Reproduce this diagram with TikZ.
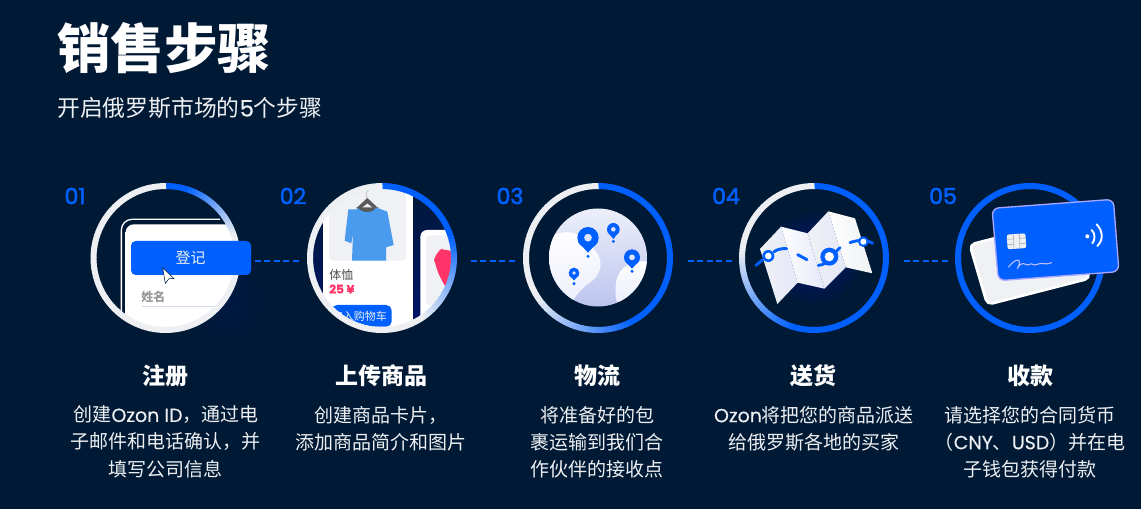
\documentclass[tikz,border=0pt]{standalone}
\usepackage{fontspec}
\setmainfont{Noto Sans CJK SC}
\newfontfamily\lat[FakeBold=0.35]{Poppins}
\newfontfamily\latnum[FakeBold=2.2]{Poppins}
\definecolor{bg}{HTML}{001A35}
\definecolor{oblue}{HTML}{0060FF}
\definecolor{ringw}{HTML}{EDEFF2}
\definecolor{lav}{HTML}{D3D8F4}
\definecolor{lavd}{HTML}{BCC4EE}
\definecolor{pale}{HTML}{EFF1F4}
\definecolor{shirt}{HTML}{4A9BEE}
\definecolor{rosy}{HTML}{FF3468}
\newcommand\fs[1]{\pgfmathsetmacro\fsz{#1*0.75}\fontsize{\fsz}{\fsz}\selectfont}
\newcommand\gring[4]{%
  \foreach \t in {0,3,...,357}{%
    \pgfmathsetmacro\pp{min(100,max(0,(#4-\t)/(#4-#3)*100))}%
    \pgfmathsetmacro\ang{\t-90}%
    \draw[line width=4.5pt,color=oblue!\pp!ringw] ($(#1,#2)+(\ang:72)$) arc[start angle=\ang,delta angle=3.4,radius=72];
  }}
\newcommand\pin[5]{% x y r tipy doty
  \fill[oblue] (#1,#2) circle[radius=#3];
  \fill[oblue] ({#1-#3*0.92},{#2+#3*0.4}) -- (#1,#4) -- ({#1+#3*0.92},{#2+#3*0.4}) -- cycle;
  \fill[lav!70!white] (#1,#2) circle[radius={#3*0.36}];
  \fill[oblue] (#1,#5) circle[radius=5];
}
\usetikzlibrary{calc}
\tikzset{
  bignum/.style={text=oblue,font=\latnum\fs{22},inner sep=0pt},
  head/.style={text=white,font=\bfseries\fs{23},inner sep=0pt},
  body/.style={text=ringw,font=\fs{19},inner sep=0pt,align=center},
  conn/.style={oblue,line width=1.5pt,dash pattern=on 4.5pt off 2.6pt},
  hub/.style={circle,minimum size=112.5pt,inner sep=0pt},
  route/.style={oblue,line width=2.2pt,line cap=round},
}
\begin{document}
\begin{tikzpicture}[x=.75pt,y=-.75pt]
\useasboundingbox (0,0) rectangle (1141,509);
\fill[bg] (0,0) rectangle (1141,509);

\node[anchor=west,text=white,font=\bfseries\fs{53.5},inner sep=0pt] (title) at (57,48) {销售步骤};
\node[anchor=west,text=ringw,font=\fs{22.8},inner sep=0pt] (sub) at (57,108) {开启俄罗斯市场的{\lat 5}个步骤};

\node[hub] (r1) at (165.5,258) {};
\node[hub] (r2) at (382,258) {};
\node[hub] (r3) at (598,258) {};
\node[hub] (r4) at (814,258) {};
\node[hub] (r5) at (1030,258) {};

\node[bignum] (n1) at (75,196) {01};
\node[bignum] (n2) at (293,196) {02};
\node[bignum] (n3) at (510,196) {03};
\node[bignum] (n4) at (726,196) {04};
\node[bignum] (n5) at (943,196) {05};

% ---------- 1
\shade[inner color=blue!7!bg,outer color=bg] (225,300) circle[radius=50];
\begin{scope}
\clip (r1) circle[radius=72];
\fill[bg] (r1) circle[radius=72];
\begin{scope}[shift={(60,170)},x=.25pt,y=-.25pt]
\draw[white,line width=1pt,rounded corners=8pt] (184,500) -- (184,148) -- (480,148);
\shade[top color=white,middle color=lav!65!white,bottom color=white,rounded corners=6pt] (197,163) rectangle (600,520);
\fill[lav] (245,409) rectangle (500,412);
\node[text=black!40,font=\bfseries\fs{12},inner sep=0pt] (nm) at (280,380) {姓名};
\end{scope}
\end{scope}
\gring{165.5}{258}{15}{70}
\begin{scope}[shift={(60,170)},x=.25pt,y=-.25pt]
\fill[oblue,rounded corners=3.5pt] (213,213) rectangle (573,315);
\node[text=ringw,font=\fs{15},inner sep=0pt] (btn1) at (392,262) {登记};
\fill[white,draw=bg,line width=.4pt] (308,293) -- (342,326) -- (327,326) -- (316,340) -- cycle;
\end{scope}

% ---------- 2
\begin{scope}
\clip (r2) circle[radius=72];
\shade[top color=bg,bottom color=blue!28!bg] (305,180) rectangle (460,340);
\begin{scope}[shift={(280,170)},x=.25pt,y=-.25pt]
\fill[white] (130,0) rectangle (398,500);
\fill[pale,rounded corners=3pt] (147,-20) rectangle (378,272);
% hanger
\fill[black!65] (232,112) -- (262,84) -- (292,112) -- (285,118) -- (262,100) -- (240,118) -- cycle;
\draw[black!25,line width=.6pt] (262,84) .. controls (255,75) and (258,62) .. (266,62);
% shirt
\fill[black!65] (228,112) .. controls (245,140) and (280,140) .. (296,112) -- cycle;
\fill[shirt] (232,118) -- (205,118) -- (194,212) -- (214,220) -- (219,190) -- (216,272) -- (318,272) -- (318,232) -- (341,225) -- (322,125) -- (288,112) .. controls (282,130) and (245,132) .. (232,112) -- cycle;
\node[anchor=west,text=black!70,font=\fs{12},inner sep=0pt] (p1) at (147,316) {体恤};
\node[anchor=west,text=rosy,font=\bfseries\fs{12},inner sep=0pt] (p2) at (147,357) {{\lat 25 ¥}};
\fill[oblue,rounded corners=4pt] (155,405) rectangle (335,470);
\node[text=ringw,font=\fs{11},inner sep=0pt] (p3) at (238,440) {加入购物车};
\fill[white,rounded corners=5pt] (421,180) rectangle (620,520);
\fill[pale,rounded corners=3pt] (438,196) rectangle (600,405);
\fill[rosy,rounded corners=8pt] (460,245) -- (505,232) -- (540,260) -- (540,400) -- (500,360) -- (465,290) -- cycle;
\end{scope}
\end{scope}
\gring{382}{258}{70}{145}

% ---------- 3
\gring{598}{258}{150}{235}
\begin{scope}
\clip (598,257.5) circle[radius=49];
\shade[top color=lav!40!white,bottom color=lavd] (540,208) rectangle (660,307);
\begin{scope}[shift={(500,170)},x=.25pt,y=-.25pt]
\shade[top color=white,bottom color=lav!45!white] (130,210) .. controls (180,180) and (235,170) .. (280,235) .. controls (320,280) and (300,320) .. (260,345) .. controls (240,360) and (225,380) .. (215,400) -- (130,420) -- cycle;
\shade[top color=white,bottom color=lav!45!white] (350,395) .. controls (340,340) and (350,290) .. (400,280) .. controls (420,272) and (430,270) .. (450,280) -- (450,400) -- cycle;
\end{scope}
\end{scope}
\begin{scope}[shift={(500,170)},x=.25pt,y=-.25pt]
\pin{264}{203}{32}{248}{259}
\pin{340}{178}{19}{207}{214}
\pin{396}{262}{24}{296}{304}
\pin{222}{309}{16}{331}{341}
\end{scope}

% ---------- 4
\gring{814}{258}{195}{275}
\shade[inner color=blue!30!bg,outer color=bg] (r4) circle[radius=50];
\begin{scope}[shift={(700,170)},x=.25pt,y=-.25pt]
\shade[left color=pale,right color=lav!60!white] (180,237) -- (243,170) -- (293,338) -- (232,402) -- cycle;
\shade[left color=white,right color=lav!60!white] (243,170) -- (323,190) -- (373,356) -- (293,338) -- cycle;
\shade[left color=pale,right color=lav!60!white] (323,190) -- (385,124) -- (437,292) -- (373,356) -- cycle;
\shade[left color=white,right color=pale] (385,124) -- (465,145) -- (517,310) -- (437,292) -- cycle;
\draw[route] (168,286) -- (187,270);
\draw[route] (222,245) .. controls (232,238) and (245,235) .. (260,236);
\draw[route] (293,254) -- (321,269);
\draw[route] (355,286) .. controls (385,285) and (400,250) .. (420,233);
\draw[route] (450,218) .. controls (470,210) and (500,208) .. (518,220);
\fill[oblue] (205,258) circle[radius=18];
\fill[white] (205,258) circle[radius=10];
\fill[oblue] (388,260) circle[radius=27];
\fill[white] (388,260) circle[radius=14];
\fill[oblue] (490,215) circle[radius=16];
\fill[white] (490,215) circle[radius=9];
\end{scope}

% ---------- 5
\gring{1030}{258}{400}{500}
\begin{scope}[shift={(900,170)},x=.25pt,y=-.25pt]
\fill[pale,draw=white,line width=2pt,rounded corners=4pt] (209,224) -- (516,145) -- (570,325) -- (262,404) -- cycle;
\fill[oblue,draw=blue!35!white,line width=1pt,rounded corners=5pt] (276,115) -- (640,88) -- (657,305) -- (295,332) -- cycle;
\fill[ringw,rounded corners=1.5pt] (320,194) -- (376,190) -- (379,234) -- (323,238) -- cycle;
\draw[black!30,line width=.5pt] (320,208) -- (340,207) (322,224) -- (340,223) (358,205) -- (377,204) (360,221) -- (378,220) (340,193) -- (342,237) (358,192) -- (360,236);
\fill[white] (562,199) circle[radius=6];
\draw[white,line width=1.4pt,line cap=round] (575,180) .. controls (586,190) and (586,210) .. (577,220);
\draw[white,line width=1.4pt,line cap=round] (590,163) .. controls (610,185) and (610,210) .. (592,228);
\draw[blue!25!white,line width=.8pt] (325,292) .. controls (345,265) and (370,260) .. (352,296) .. controls (365,270) and (375,285) .. (385,285) .. controls (395,275) and (400,290) .. (412,283) .. controls (425,275) and (435,288) .. (456,277);
\end{scope}

% ---------- connectors
\coordinate (a1) at (255,261); \coordinate (b1) at (301,261);
\coordinate (a2) at (471,261); \coordinate (b2) at (516,261);
\coordinate (a3) at (688,261); \coordinate (b3) at (732,261);
\coordinate (a4) at (904,261); \coordinate (b4) at (950,261);
\draw[conn] (a1) -- (b1);
\draw[conn] (a2) -- (b2);
\draw[conn] (a3) -- (b3);
\draw[conn] (a4) -- (b4);

% ---------- text
\node[head] (h1) at (165,376) {注册};
\node[head] (h2) at (381,376) {上传商品};
\node[head] (h3) at (597,376) {物流};
\node[head] (h4) at (813,376) {送货};
\node[head] (h5) at (1030,376) {收款};
\node[body] (t1a) at (166,415) {创建{\lat Ozon ID}，通过电};
\node[body] (t1b) at (165,442) {子邮件和电话确认，并};
\node[body] (t1c) at (165,469) {填写公司信息};
\node[body] (t2a) at (381,415) {创建商品卡片，};
\node[body] (t2b) at (381,442) {添加商品简介和图片};
\node[body] (t3a) at (597,415) {将准备好的包};
\node[body] (t3b) at (597,442) {裹运输到我们合};
\node[body] (t3c) at (597,469) {作伙伴的接收点};
\node[body] (t4a) at (814,415) {{\lat Ozon}将把您的商品派送};
\node[body] (t4b) at (814,442) {给俄罗斯各地的买家};
\node[body] (t5a) at (1030,415) {请选择您的合同货币};
\node[body] (t5b) at (1030,442) {（{\lat CNY}、{\lat USD}）并在电};
\node[body] (t5c) at (1030,469) {子钱包获得付款};
\end{tikzpicture}
\end{document}
